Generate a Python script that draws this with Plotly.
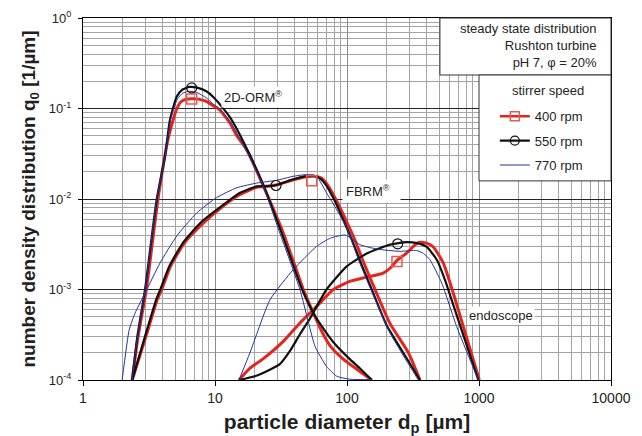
import plotly.graph_objects as go

# ---------------- data ----------------
# 2D-ORM
orm_400_x = [2.36, 2.61, 3.02, 3.70, 4.45, 5.1, 5.5, 6.0, 6.7, 7.5, 8.6, 9.7, 10.8, 13.0, 14.5, 17.4, 23.0, 32.9, 46.7, 55.6, 64, 74.3, 93.7, 120, 154]
orm_400_y = [1e-4, 3.0e-4, 1e-3, 1e-2, 0.049, 0.097, 0.118, 0.126, 0.128, 0.127, 0.120, 0.107, 0.097, 0.069, 0.051, 0.0348, 0.0144, 0.0042, 1e-3, 5.5e-4, 3.5e-4, 2.4e-4, 1.7e-4, 1.3e-4, 1e-4]
orm_550_x = [2.36, 2.58, 2.95, 3.62, 4.18, 4.56, 5.13, 5.6, 6.4, 7.3, 8.6, 9.7, 11.5, 13.0, 14.5, 18.3, 23.0, 32.0, 45.7, 55.6, 70, 81, 105, 125, 154]
orm_550_y = [1e-4, 3.0e-4, 1e-3, 1e-2, 0.0295, 0.075, 0.136, 0.160, 0.173, 0.170, 0.155, 0.134, 0.101, 0.080, 0.061, 0.031, 0.0148, 0.0042, 1e-3, 5.5e-4, 3.3e-4, 2.5e-4, 1.7e-4, 1.35e-4, 1e-4]
orm_770_x = [2.36, 2.58, 2.95, 3.62, 4.2, 4.6, 5.2, 5.7, 6.4, 7.3, 8.6, 9.7, 10.8, 13.0, 14.5, 18.3, 23.0, 31.0, 44.0, 57.3, 70, 83.6, 105, 154]
orm_770_y = [1e-4, 3.0e-4, 1e-3, 1e-2, 0.030, 0.075, 0.128, 0.148, 0.155, 0.150, 0.131, 0.112, 0.100, 0.072, 0.055, 0.029, 0.0144, 0.0042, 1e-3, 2.35e-4, 1.41e-4, 1.1e-4, 1.02e-4, 1.01e-4]

# FBRM
fbrm_400_x = [2.36, 3.05, 3.65, 3.95, 4.6, 5.8, 7.7, 11.6, 15.5, 20.7, 24.6, 29.0, 39.2, 48, 56, 64, 72, 82, 99.5, 115, 130, 165, 212, 292, 357]
fbrm_400_y = [1e-4, 3.3e-4, 7.7e-4, 1e-3, 1.8e-3, 3.2e-3, 5.0e-3, 8.4e-3, 0.0112, 0.0135, 0.0138, 0.0143, 0.0163, 0.0175, 0.0178, 0.0170, 0.0140, 0.0100, 0.0056, 0.0035, 0.0022, 9.6e-4, 4.2e-4, 2.0e-4, 1e-4]
fbrm_550_x = [2.36, 3.0, 3.58, 3.85, 4.5, 5.7, 7.7, 11.6, 15.5, 20.7, 24.6, 29.0, 39.2, 48, 55.6, 62, 70, 80, 93.7, 110, 125, 154, 200, 267, 357]
fbrm_550_y = [1e-4, 3.3e-4, 7.7e-4, 1e-3, 1.8e-3, 3.26e-3, 5.4e-3, 8.65e-3, 0.0117, 0.0138, 0.0139, 0.0142, 0.0165, 0.0178, 0.0181, 0.0170, 0.0140, 0.0098, 0.0059, 0.0034, 0.0021, 1e-3, 4.0e-4, 2.0e-4, 1e-4]
fbrm_770_x = [1.98, 2.24, 2.48, 2.95, 3.83, 5.13, 7.26, 10.2, 14.6, 20.7, 29.3, 39.0, 49.5, 58.9, 70, 83.6, 99.5, 125, 154, 212, 347]
fbrm_770_y = [1e-4, 3.6e-4, 5.5e-4, 9.1e-4, 1.96e-3, 3.9e-3, 7.0e-3, 0.0103, 0.0133, 0.0150, 0.0161, 0.0178, 0.0186, 0.0177, 0.0117, 7.6e-3, 4.8e-3, 1.96e-3, 9.5e-4, 3.3e-4, 1e-4]

# endoscope
endo_400_x = [15.2, 18.4, 23.0, 32.9, 44, 58.9, 78.7, 105, 141, 188, 215, 239, 283, 330, 357, 400, 451, 537, 639, 760, 1006]
endo_400_y = [1e-4, 1.35e-4, 1.7e-4, 2.67e-4, 4.27e-4, 6.5e-4, 1e-3, 1.23e-3, 1.37e-3, 1.52e-3, 1.75e-3, 2.1e-3, 2.53e-3, 3.15e-3, 3.32e-3, 3.25e-3, 2.95e-3, 1.96e-3, 9.1e-4, 3.9e-4, 1e-4]
endo_550_x = [15.2, 20, 26, 31, 37, 44, 52.5, 70, 99.5, 141, 212, 283, 340, 402, 479, 552, 700, 988]
endo_550_y = [1e-4, 1.1e-4, 1.3e-4, 1.5e-4, 2.1e-4, 3.2e-4, 4.8e-4, 1e-3, 1.8e-3, 2.5e-3, 3.13e-3, 3.34e-3, 3.25e-3, 2.95e-3, 2.13e-3, 1.28e-3, 4.5e-4, 1e-4]
endo_770_x = [15.2, 18.4, 26.1, 39.2, 58.9, 75, 96.5, 110, 125, 168, 252, 337, 380, 425, 522, 677, 988]
endo_770_y = [1e-4, 2.0e-4, 7.7e-4, 1.66e-3, 3.0e-3, 3.7e-3, 4.0e-3, 3.6e-3, 3.13e-3, 2.8e-3, 2.64e-3, 2.7e-3, 2.5e-3, 2.13e-3, 1.18e-3, 3.9e-4, 1e-4]

# single markers on the curves
mark_400_x = [6.66, 54, 239]
mark_400_y = [0.127, 0.0159, 0.00204]
mark_550_x = [6.66, 29, 242]
mark_550_y = [0.169, 0.0141, 0.0032]

x_tick_vals = [1, 10, 100, 1000, 10000]
x_tick_text = ["1", "10", "100", "1000", "10000"]
y_tick_vals = [1e-4, 1e-3, 1e-2, 1e-1, 1]
y_tick_text = ["10<sup>-4</sup>", "10<sup>-3</sup>", "10<sup>-2</sup>", "10<sup>-1</sup>", "10<sup>0</sup>"]

speeds = ["400 rpm", "550 rpm", "770 rpm"]

# ---------------- styles ----------------
RED = "#e3261d"
BLACK = "#111111"
BLUE = "#22339e"
FONT = "Arial, Liberation Sans, sans-serif"
TXT = "#231f20"

style = {
    "400 rpm": dict(color=RED, width=3),
    "550 rpm": dict(color=BLACK, width=2.2),
    "770 rpm": dict(color=BLUE, width=1),
}

curves = [
    ("400 rpm", orm_400_x, orm_400_y), ("400 rpm", fbrm_400_x, fbrm_400_y), ("400 rpm", endo_400_x, endo_400_y),
    ("550 rpm", orm_550_x, orm_550_y), ("550 rpm", fbrm_550_x, fbrm_550_y), ("550 rpm", endo_550_x, endo_550_y),
    ("770 rpm", orm_770_x, orm_770_y), ("770 rpm", fbrm_770_x, fbrm_770_y), ("770 rpm", endo_770_x, endo_770_y),
]

fig = go.Figure()
for name, xs, ys in curves:
    fig.add_trace(go.Scatter(x=xs, y=ys, mode="lines", line=dict(**style[name], shape="spline", smoothing=0.5),
                             showlegend=False, hoverinfo="skip"))

fig.add_trace(go.Scatter(x=mark_400_x, y=mark_400_y, mode="markers", showlegend=False,
                         marker=dict(symbol="square-open", size=10, color="#e85a50", line=dict(width=1.5))))
fig.add_trace(go.Scatter(x=mark_550_x, y=mark_550_y, mode="markers", showlegend=False,
                         marker=dict(symbol="circle-open", size=10, color=BLACK, line=dict(width=1.2))))

# legend entries
legend_markers = {"400 rpm": dict(symbol="square-open", size=9, color="#e85a50", line=dict(width=1.5)),
                  "550 rpm": dict(symbol="circle-open", size=9, color=BLACK, line=dict(width=1.2)),
                  "770 rpm": None}
for i, name in enumerate(speeds):
    mk = legend_markers[name]
    fig.add_trace(go.Scatter(x=[None], y=[None], name=name, legendgroup=str(i),
                             mode="lines+markers" if mk else "lines",
                             line=dict(color=style[name]["color"], width=min(style[name]["width"], 2.5)),
                             marker=mk if mk else None))

# ---------------- axes ----------------
def minor_vals(lo, hi):
    out = []
    for e in range(lo, hi):
        for m in range(2, 10):
            out.append(m * 10 ** e)
    return out

fig.update_xaxes(type="log", range=[0, 4], tickvals=x_tick_vals, ticktext=x_tick_text,
                 showgrid=True, gridcolor="#8a8a8a", gridwidth=1,
                 minor=dict(tickvals=minor_vals(0, 4), showgrid=True, gridcolor="#a4a4a4", gridwidth=1, ticks=""),
                 showline=True, linecolor="black", linewidth=1, mirror=True,
                 ticks="outside", ticklen=5, tickcolor="black",
                 tickfont=dict(family=FONT, size=14, color=TXT),
                 title=dict(text="<b>particle diameter d<sub>p</sub> [µm]</b>", font=dict(family=FONT, size=21, color=TXT), standoff=10),
                 zeroline=False, automargin=False)
fig.update_yaxes(type="log", range=[-4, 0], tickvals=y_tick_vals, ticktext=y_tick_text,
                 showgrid=True, gridcolor="#222222", gridwidth=1,
                 minor=dict(tickvals=minor_vals(-4, 0), showgrid=True, gridcolor="#a4a4a4", gridwidth=1, ticks=""),
                 showline=True, linecolor="black", linewidth=1, mirror=True,
                 ticks="outside", ticklen=4, tickcolor="black", ticklabelstandoff=4,
                 tickfont=dict(family=FONT, size=13, color=TXT),
                 title=dict(text="<b>number density distribution q<sub>0</sub> [1/µm]</b>", font=dict(family=FONT, size=19, color=TXT), standoff=8),
                 zeroline=False, automargin=False)

# ---------------- boxes & labels ----------------
fig.add_shape(type="rect", xref="paper", yref="paper", x0=0.676, x1=1.0, y0=0.8425, y1=1.0,
              line=dict(color="#333", width=1), fillcolor="white", layer="above")
fig.add_shape(type="rect", xref="paper", yref="paper", x0=0.75, x1=1.0, y0=0.55, y1=0.8425,
              line=dict(color="#333", width=1), fillcolor="white", layer="above")

fig.add_annotation(xref="paper", yref="paper", x=0.977, y=0.924, xanchor="right", yanchor="middle", align="right",
                   text="steady state distribution<br>Rushton turbine<br>pH 7, φ = 20%", showarrow=False,
                   font=dict(family=FONT, size=13, color=TXT))
fig.add_annotation(xref="paper", yref="paper", x=0.8807, y=0.799, xanchor="center", yanchor="middle",
                   text="stirrer speed", showarrow=False, font=dict(family=FONT, size=13, color=TXT))

label_font = dict(family=FONT, size=13, color=TXT)
fig.add_annotation(xref="paper", yref="paper", x=0.262, y=0.781, xanchor="left", yanchor="middle",
                   text="2D-ORM<sup>®</sup>", showarrow=False, font=label_font, bgcolor="white", borderpad=2)
fig.add_annotation(xref="paper", yref="paper", x=0.49, y=0.523, xanchor="left", yanchor="middle",
                   text="FBRM<sup>®</sup>  ", showarrow=False, font=label_font, bgcolor="white", borderpad=3)
fig.add_annotation(xref="paper", yref="paper", x=0.727, y=0.177, xanchor="left", yanchor="middle",
                   text="endoscope", showarrow=False, font=label_font, bgcolor="white", borderpad=1)

fig.update_layout(
    width=642, height=436,
    margin=dict(l=83, r=31, t=18, b=56),
    paper_bgcolor="white", plot_bgcolor="white",
    font=dict(family=FONT, color=TXT),
    legend=dict(x=0.780, y=0.770, xanchor="left", yanchor="top",
                bgcolor="rgba(0,0,0,0)", borderwidth=0,
                font=dict(family=FONT, size=13, color=TXT), tracegroupgap=4.5, itemwidth=30),
)

fig.write_html("out.html")
